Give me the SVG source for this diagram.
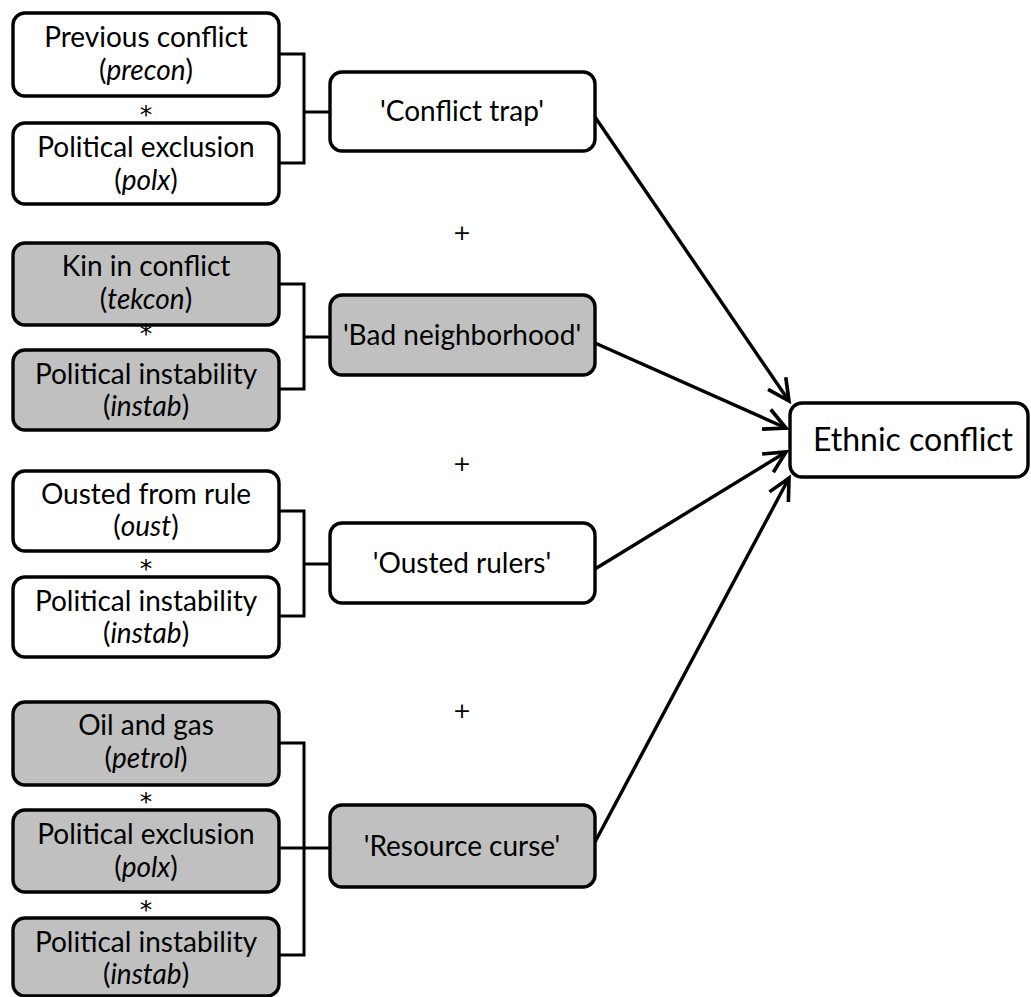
<svg xmlns="http://www.w3.org/2000/svg" width="1031" height="997" viewBox="0 0 1031 997">
<style>
.box{fill:#fff;stroke:#000;stroke-width:3.4}
.g{fill:#c0c0c0}
.t{font-family:Lato,"Liberation Sans",sans-serif;font-size:28px;fill:#000;text-anchor:middle}
.big{font-size:32px}
.op{font-family:"DejaVu Sans",sans-serif;font-size:22px;fill:#000;text-anchor:middle}
.st{font-family:"DejaVu Sans",sans-serif;font-size:25px;fill:#000;text-anchor:middle}
.c{fill:none;stroke:#000;stroke-width:3}
.a{fill:none;stroke:#000;stroke-width:3.4}
</style>
<defs>
<marker id="ah" markerUnits="userSpaceOnUse" markerWidth="30" markerHeight="30" viewBox="-24 -13 28 26" refX="0" refY="0" orient="auto">
<path d="M-20,-10 L0,0 L-20,10" fill="none" stroke="#000" stroke-width="3.4" stroke-linejoin="miter"/>
</marker>
</defs>
<rect width="1031" height="997" fill="#fff"/>
<g id="connectors">
<path class="c" d="M279,54 H304 V163 H279 M304,112 H330"/>
<path class="c" d="M279,284 H304 V389 H279 M304,337 H330"/>
<path class="c" d="M279,511 H304 V616 H279 M304,564 H330"/>
<path class="c" d="M279,743 H304 V955 H279 M279,848 H330"/>
<line class="a" x1="595" y1="117" x2="789" y2="401" marker-end="url(#ah)"/>
<line class="a" x1="595" y1="343" x2="786" y2="428" marker-end="url(#ah)"/>
<line class="a" x1="595" y1="569" x2="786" y2="452" marker-end="url(#ah)"/>
<line class="a" x1="595" y1="842" x2="789" y2="478" marker-end="url(#ah)"/>
</g>
<g id="precon"><rect class="box" x="13" y="13" width="266" height="83" rx="12"/><text class="t" x="146" y="47">Previous conflict</text><text class="t" x="146" y="80">(<tspan font-style="italic">precon</tspan>)</text></g>
<g id="polx1"><rect class="box" x="13" y="123" width="266" height="81" rx="12"/><text class="t" x="146" y="157">Political exclusion</text><text class="t" x="146" y="190">(<tspan font-style="italic">polx</tspan>)</text></g>
<g id="tekcon"><rect class="box g" x="13" y="243" width="266" height="82" rx="12"/><text class="t" x="146" y="276">Kin in conflict</text><text class="t" x="146" y="309">(<tspan font-style="italic">tekcon</tspan>)</text></g>
<g id="instab1"><rect class="box g" x="13" y="350" width="266" height="80" rx="12"/><text class="t" x="146" y="384">Political instability</text><text class="t" x="146" y="416">(<tspan font-style="italic">instab</tspan>)</text></g>
<g id="oust"><rect class="box" x="13" y="471" width="266" height="80" rx="12"/><text class="t" x="146" y="504">Ousted from rule</text><text class="t" x="146" y="536">(<tspan font-style="italic">oust</tspan>)</text></g>
<g id="instab2"><rect class="box" x="13" y="577" width="266" height="80" rx="12"/><text class="t" x="146" y="611">Political instability</text><text class="t" x="146" y="643">(<tspan font-style="italic">instab</tspan>)</text></g>
<g id="petrol"><rect class="box g" x="13" y="702" width="266" height="83" rx="12"/><text class="t" x="146" y="735">Oil and gas</text><text class="t" x="146" y="768">(<tspan font-style="italic">petrol</tspan>)</text></g>
<g id="polx2"><rect class="box g" x="13" y="810" width="266" height="82" rx="12"/><text class="t" x="146" y="844">Political exclusion</text><text class="t" x="146" y="877">(<tspan font-style="italic">polx</tspan>)</text></g>
<g id="instab3"><rect class="box g" x="13" y="918" width="266" height="78" rx="12"/><text class="t" x="146" y="952">Political instability</text><text class="t" x="146" y="984">(<tspan font-style="italic">instab</tspan>)</text></g>
<g id="ops">
<text class="st" x="146" y="123">*</text>
<text class="st" x="146" y="342">*</text>
<text class="st" x="146" y="577">*</text>
<text class="st" x="146" y="810">*</text>
<text class="st" x="146" y="918">*</text>
<text class="op" x="462" y="240">+</text>
<text class="op" x="462" y="471">+</text>
<text class="op" x="462" y="718">+</text>
</g>
<g id="trap"><rect class="box" x="330" y="72" width="265" height="79" rx="12"/><text class="t" x="462" y="121">'Conflict trap'</text></g>
<g id="neigh"><rect class="box g" x="330" y="295" width="265" height="80" rx="12"/><text class="t" x="462" y="345">'Bad neighborhood'</text></g>
<g id="rulers"><rect class="box" x="330" y="523" width="265" height="80" rx="12"/><text class="t" x="462" y="573">'Ousted rulers'</text></g>
<g id="curse"><rect class="box g" x="330" y="805" width="265" height="82" rx="12"/><text class="t" x="462" y="856">'Resource curse'</text></g>
<g id="ethnic"><rect class="box" x="790" y="403" width="238" height="74" rx="12"/><text class="t big" x="913" y="451">Ethnic conflict</text></g>
</svg>
